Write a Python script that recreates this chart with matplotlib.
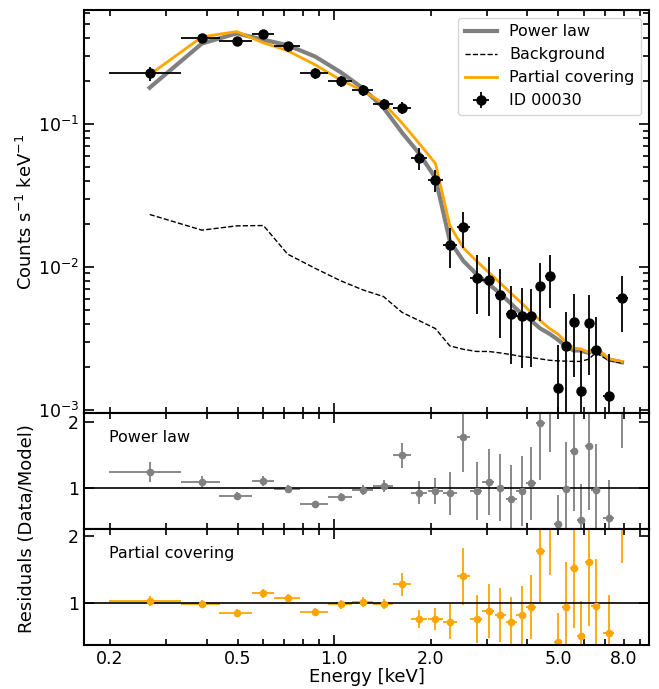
import numpy as np
import matplotlib
matplotlib.use("Agg")
import matplotlib.pyplot as plt
import matplotlib.gridspec as gridspec
from matplotlib.ticker import LogLocator, FuncFormatter, FixedLocator

# spectrum of ID 00030
energy = [0.266, 0.387, 0.497, 0.602, 0.716, 0.871, 1.048, 1.231, 1.426, 1.63,
          1.845, 2.07, 2.295, 2.53, 2.78, 3.03, 3.30, 3.57, 3.84, 4.12,
          4.40, 4.70, 4.98, 5.27, 5.58, 5.87, 6.22, 6.54, 7.18, 7.90]
energy_err = [0.067, 0.054, 0.058, 0.048, 0.067, 0.088, 0.090, 0.093, 0.100, 0.104,
              0.110, 0.112, 0.115, 0.122, 0.122, 0.13, 0.13, 0.135, 0.14, 0.14,
              0.145, 0.145, 0.14, 0.15, 0.15, 0.16, 0.165, 0.2, 0.3, 0.35]
counts = [0.227, 0.400, 0.380, 0.425, 0.350, 0.227, 0.200, 0.173, 0.138, 0.130,
          0.0578, 0.0406, 0.01426, 0.0190, 0.0084, 0.0081, 0.0064, 0.0047, 0.00456, 0.0045,
          0.0074, 0.0087, 0.00143, 0.0028, 0.0041, 0.00136, 0.00406, 0.00263, 0.00125, 0.0061]
counts_err = [0.025, 0.030, 0.030, 0.030, 0.028, 0.020, 0.018, 0.016, 0.013, 0.013,
              0.010, 0.007, 0.0045, 0.0054, 0.0037, 0.0036, 0.0032, 0.0026, 0.0026, 0.0025,
              0.0032, 0.0035, 0.0014, 0.0020, 0.0024, 0.0012, 0.0023, 0.0018, 0.00122, 0.0026]

# models
model_pl = [0.180, 0.367, 0.432, 0.390, 0.357, 0.298, 0.231, 0.178, 0.130, 0.087,
            0.062, 0.042, 0.0152, 0.0110, 0.0089, 0.0076, 0.0065, 0.0055, 0.0047, 0.0042,
            0.0037, 0.0034, 0.0031, 0.0028, 0.0026, 0.0026, 0.0025, 0.0027, 0.00225, 0.00215]
model_pc = [0.222, 0.408, 0.445, 0.371, 0.327, 0.261, 0.204, 0.171, 0.140, 0.1016,
            0.073, 0.053, 0.0195, 0.0136, 0.0110, 0.0092, 0.0077, 0.0065, 0.0056, 0.0048,
            0.0042, 0.0037, 0.0034, 0.0030, 0.0027, 0.00267, 0.00252, 0.00275, 0.00227, 0.00218]
background = [0.0233, 0.0181, 0.0194, 0.0195, 0.0123, 0.0098, 0.0080, 0.0069, 0.0062, 0.0048,
              0.0042, 0.0037, 0.0028, 0.00265, 0.00256, 0.00256, 0.0025, 0.00243, 0.00236, 0.00232,
              0.00227, 0.00222, 0.0022, 0.00219, 0.00218, 0.00218, 0.00226, 0.0025, 0.00222, 0.00212]

# residuals (data/model)
res_pl = [1.247, 1.086, 0.874, 1.106, 0.98, 0.758, 0.869, 0.97, 1.035, 1.50,
          0.93, 0.955, 0.92, 1.78, 0.96, 1.086, 1.005, 0.84, 0.955, 1.07,
          1.99, 2.55, 0.45, 0.98, 1.565, 0.515, 1.64, 0.97, 0.55, 2.82]
res_pl_err = [0.15, 0.09, 0.06, 0.07, 0.06, 0.05, 0.055, 0.075, 0.09, 0.19,
              0.17, 0.20, 0.33, 0.54, 0.44, 0.5, 0.51, 0.51, 0.53, 0.55,
              0.87, 1.0, 0.45, 0.72, 0.92, 0.55, 0.97, 0.70, 0.57, 1.21]
res_pc = [1.03, 0.98, 0.846, 1.145, 1.07, 0.87, 0.98, 1.01, 0.985, 1.28,
          0.757, 0.757, 0.72, 1.40, 0.757, 0.88, 0.82, 0.71, 0.815, 0.945,
          1.78, 2.37, 0.42, 0.945, 1.52, 0.51, 1.61, 0.955, 0.55, 2.8]
res_pc_err = [0.08, 0.06, 0.06, 0.07, 0.065, 0.06, 0.07, 0.075, 0.08, 0.17,
              0.14, 0.17, 0.26, 0.43, 0.36, 0.4, 0.4, 0.38, 0.44, 0.48,
              0.78, 0.95, 0.43, 0.67, 0.89, 0.52, 0.95, 0.70, 0.57, 1.2]

xlabels = {0.2: "0.2", 0.5: "0.5", 1.0: "1.0", 2.0: "2.0", 5.0: "5.0", 8.0: "8.0"}

plt.rcParams['axes.linewidth'] = 1.5
plt.rcParams['xtick.labelsize'] = 12.5
plt.rcParams['ytick.labelsize'] = 12.5

fig = plt.figure(figsize=(6.59, 6.89), dpi=100)
gs = gridspec.GridSpec(3, 1, height_ratios=[403, 116, 116], hspace=0,
                       left=0.1275, right=0.985, top=0.9855, bottom=0.064)
ax1 = fig.add_subplot(gs[0])
ax2 = fig.add_subplot(gs[1], sharex=ax1)
ax3 = fig.add_subplot(gs[2], sharex=ax1)

# top panel
l1, = ax1.plot(energy, model_pl, color="gray", lw=3, label="Power law")
l2, = ax1.plot(energy, background, "k--", lw=1, label="Background")
l3, = ax1.plot(energy, model_pc, color="orange", lw=2, label="Partial covering")
eb = ax1.errorbar(energy, counts, xerr=energy_err, yerr=counts_err, fmt="o", color="k",
                  ms=6.5, elinewidth=1.3, capsize=0, zorder=3, label="ID 00030")
ax1.set_xscale("log")
ax1.set_yscale("log")
ax1.set_xlim(0.166, 9.6)
ax1.set_ylim(0.00095, 0.63)
ax1.set_ylabel("Counts s$^{-1}$ keV$^{-1}$", fontsize=13)
ax1.legend(handles=[l1, l2, l3, eb], loc="upper right", fontsize=11.5)

# residual panels
ax2.errorbar(energy, res_pl, xerr=energy_err, yerr=res_pl_err, fmt="o", color="gray",
             ms=4.5, elinewidth=1.3, capsize=0)
ax2.axhline(1, color="k", lw=1.2)
ax2.set_ylim(0.38, 2.14)
ax2.text(0.045, 0.785, "Power law", transform=ax2.transAxes, fontsize=11.5, va="center")

ax3.errorbar(energy, res_pc, xerr=energy_err, yerr=res_pc_err, fmt="o", color="orange",
             ms=4.5, elinewidth=1.3, capsize=0)
ax3.axhline(1, color="k", lw=1.2)
ax3.set_ylim(0.37, 2.11)
ax3.text(0.045, 0.785, "Partial covering", transform=ax3.transAxes, fontsize=11.5, va="center")
ax3.set_xlabel("Energy [keV]", fontsize=13, labelpad=0)
ax3.set_ylabel("Residuals (Data/Model)", fontsize=13)

def xfmt(v, pos):
    for k, s in xlabels.items():
        if abs(v - k) < 1e-6:
            return s
    return ""

for ax in (ax1, ax2, ax3):
    ax.tick_params(which="both", direction="in", top=True, right=True, width=1.2)
    ax.tick_params(which="major", length=7)
    ax.tick_params(which="minor", length=4)
    ax.xaxis.set_major_locator(LogLocator(base=10))
    ax.xaxis.set_minor_locator(LogLocator(base=10, subs=np.arange(2, 10)))

for ax in (ax2, ax3):
    ax.yaxis.set_major_locator(FixedLocator([1, 2]))
    ax.yaxis.set_minor_locator(FixedLocator([]))

ax1.tick_params(labelbottom=False)
ax2.tick_params(labelbottom=False)
ax3.xaxis.set_major_formatter(FuncFormatter(xfmt))
ax3.xaxis.set_minor_formatter(FuncFormatter(xfmt))

ax1.yaxis.set_label_coords(-0.085, 0.5)
ax3.yaxis.set_label_coords(-0.085, 1.0)

fig.savefig("out.png", dpi=100)
plt.close()
